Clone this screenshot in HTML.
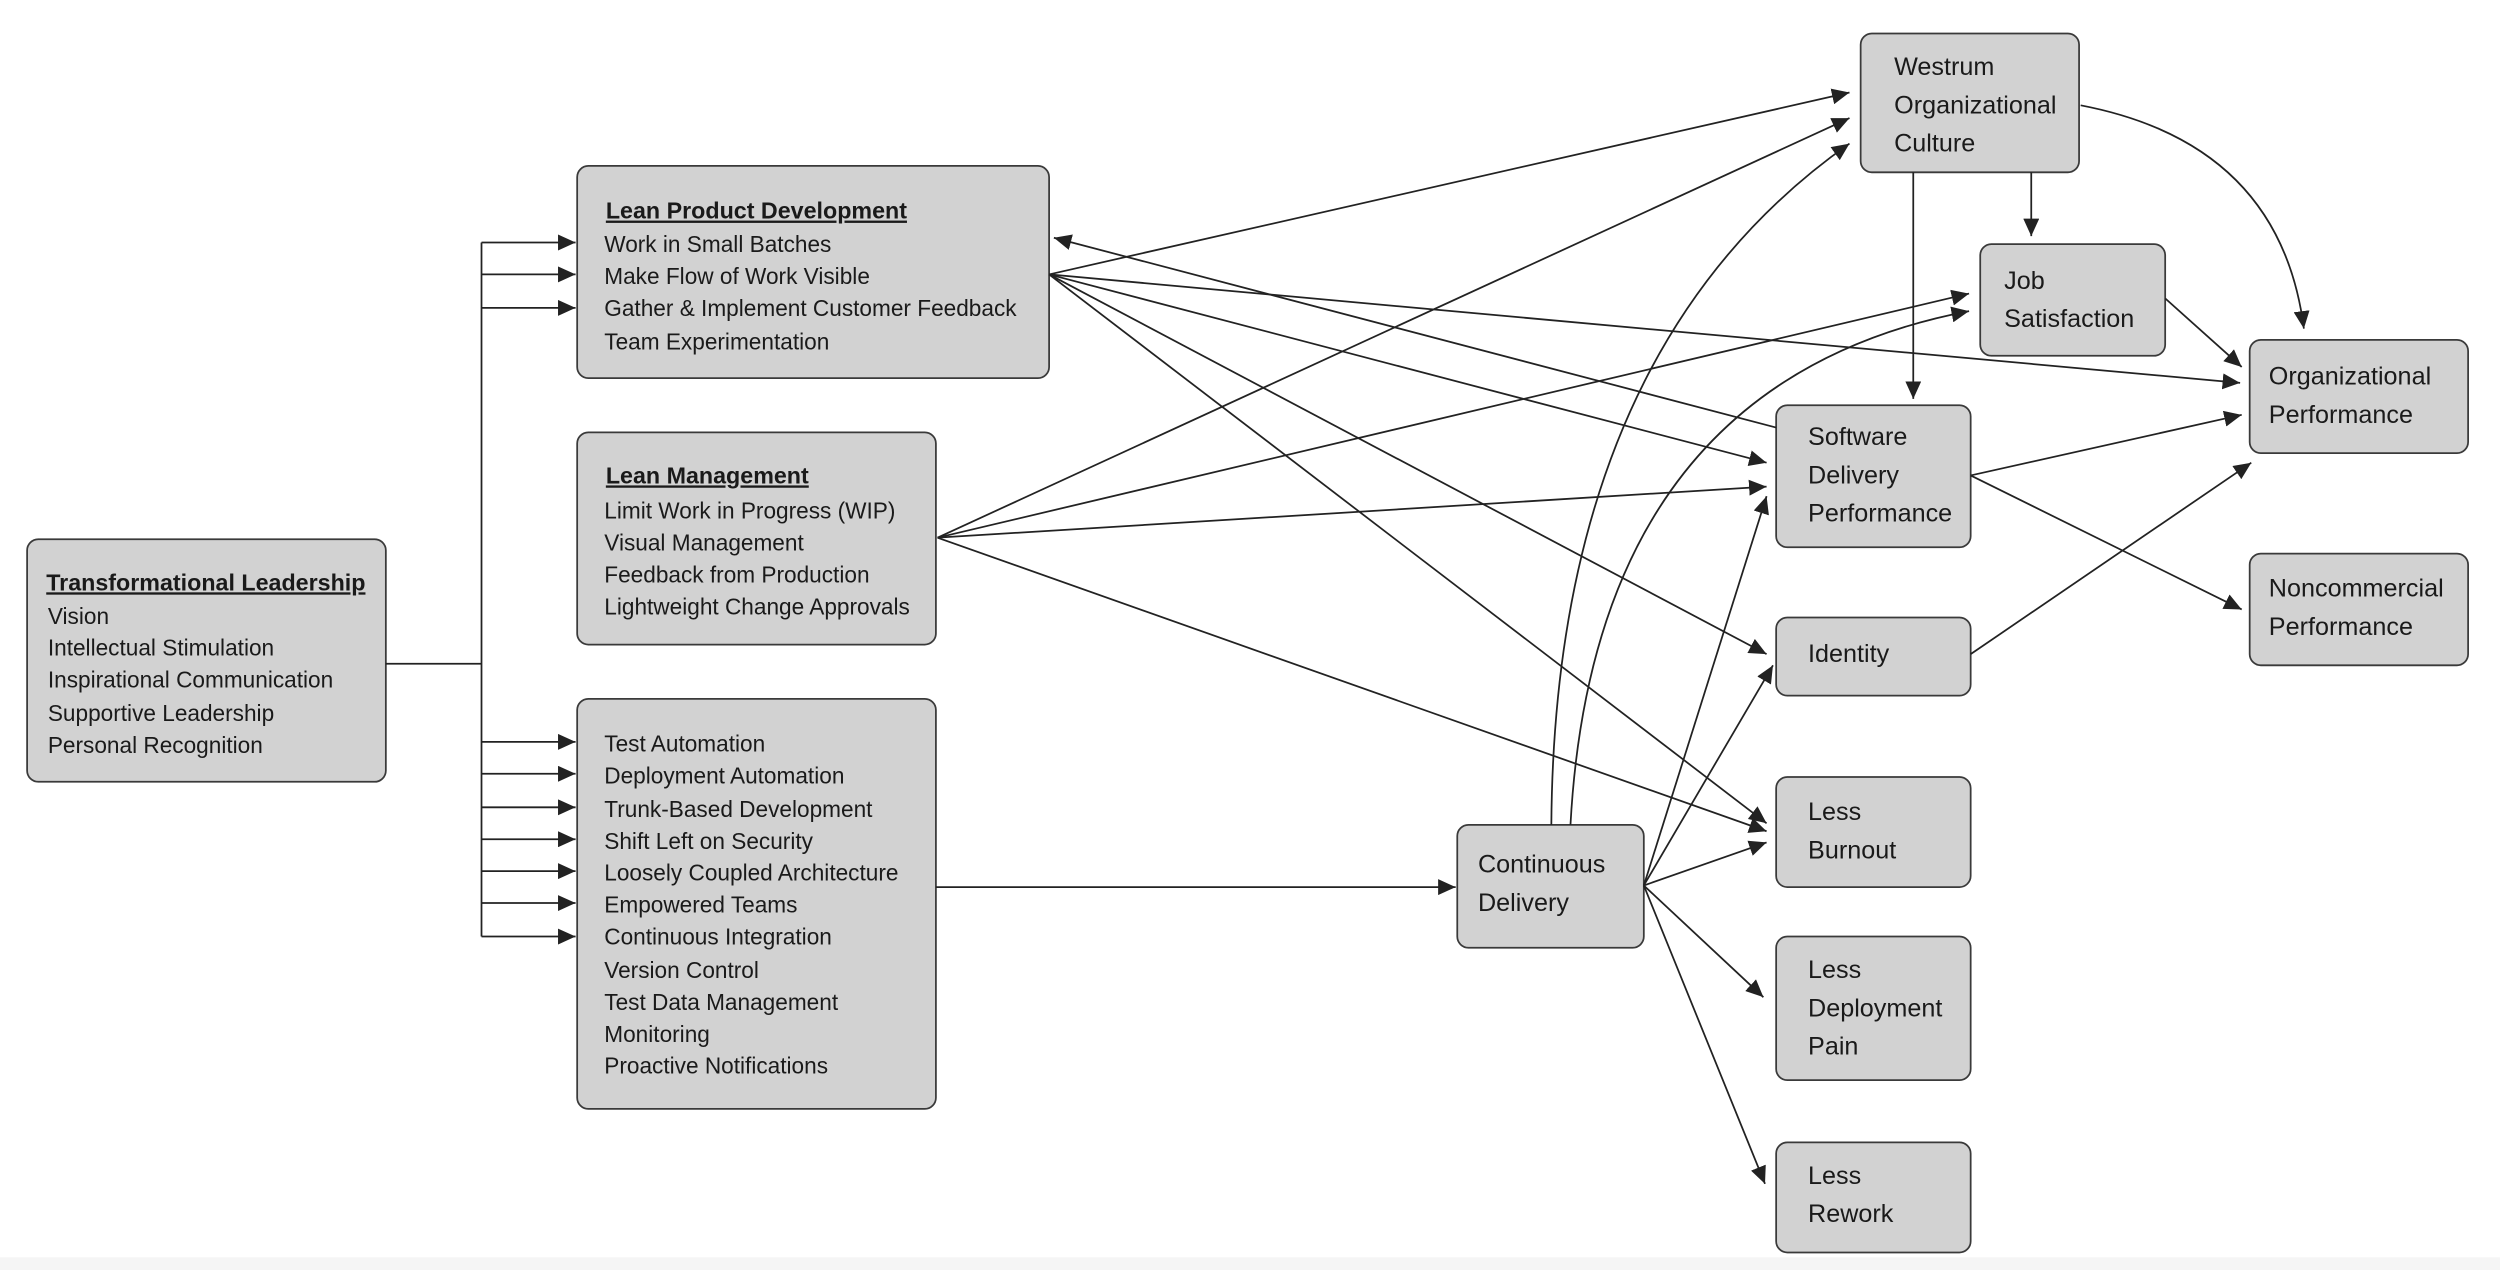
<!DOCTYPE html>
<html><head><meta charset="utf-8"><style>
html,body{margin:0;padding:0;background:#fff;}
svg{display:block;}
text{font-family:"Liberation Sans",sans-serif;fill:#1a1a1a;}
.i{font-size:14.2px;}
.t{font-size:14.6px;font-weight:bold;text-decoration:underline;}
.b{font-size:15.8px;}
rect{fill:#d2d2d2;stroke:#3a3a3a;stroke-width:1.1;}
.l{stroke:#222;stroke-width:1.1;fill:none;}
</style></head><body>
<svg width="2500" height="1270" viewBox="0 0 1568 796" preserveAspectRatio="none">
<defs>
<marker id="a" markerUnits="userSpaceOnUse" markerWidth="12" markerHeight="10" refX="11" refY="5" orient="auto">
<path d="M0,0 L11,5 L0,10 z" fill="#222"/></marker>
</defs>
<rect x="0" y="788" width="1568" height="8" style="fill:#f5f5f5;stroke:none"/>
<rect x="17" y="338" width="225" height="152" rx="7"/>
<rect x="362" y="104" width="296" height="133" rx="7"/>
<rect x="362" y="271" width="225" height="133" rx="7"/>
<rect x="362" y="438" width="225" height="257" rx="7"/>
<rect x="914" y="517" width="117" height="77" rx="7"/>
<rect x="1167" y="21" width="137" height="87" rx="7"/>
<rect x="1242" y="153" width="116" height="70" rx="7"/>
<rect x="1114" y="254" width="122" height="89" rx="7"/>
<rect x="1411" y="213" width="137" height="71" rx="7"/>
<rect x="1411" y="347" width="137" height="70" rx="7"/>
<rect x="1114" y="387" width="122" height="49" rx="7"/>
<rect x="1114" y="487" width="122" height="69" rx="7"/>
<rect x="1114" y="587" width="122" height="90" rx="7"/>
<rect x="1114" y="716" width="122" height="69" rx="7"/>
<text class="t" x="29" y="370">Transformational Leadership</text>
<text class="i" x="30" y="391">Vision</text>
<text class="i" x="30" y="411">Intellectual Stimulation</text>
<text class="i" x="30" y="431">Inspirational Communication</text>
<text class="i" x="30" y="452">Supportive Leadership</text>
<text class="i" x="30" y="472">Personal Recognition</text>
<text class="t" x="380" y="137">Lean Product Development</text>
<text class="i" x="379" y="158">Work in Small Batches</text>
<text class="i" x="379" y="178">Make Flow of Work Visible</text>
<text class="i" x="379" y="198">Gather &amp; Implement Customer Feedback</text>
<text class="i" x="379" y="219">Team Experimentation</text>
<text class="t" x="380" y="303">Lean Management</text>
<text class="i" x="379" y="325">Limit Work in Progress (WIP)</text>
<text class="i" x="379" y="345">Visual Management</text>
<text class="i" x="379" y="365">Feedback from Production</text>
<text class="i" x="379" y="385">Lightweight Change Approvals</text>
<text class="i" x="379" y="471">Test Automation</text>
<text class="i" x="379" y="491">Deployment Automation</text>
<text class="i" x="379" y="512">Trunk-Based Development</text>
<text class="i" x="379" y="532">Shift Left on Security</text>
<text class="i" x="379" y="552">Loosely Coupled Architecture</text>
<text class="i" x="379" y="572">Empowered Teams</text>
<text class="i" x="379" y="592">Continuous Integration</text>
<text class="i" x="379" y="613">Version Control</text>
<text class="i" x="379" y="633">Test Data Management</text>
<text class="i" x="379" y="653">Monitoring</text>
<text class="i" x="379" y="673">Proactive Notifications</text>
<text class="b" x="927" y="547">Continuous</text>
<text class="b" x="927" y="571">Delivery</text>
<text class="b" x="1188" y="47">Westrum</text>
<text class="b" x="1188" y="71">Organizational</text>
<text class="b" x="1188" y="95">Culture</text>
<text class="b" x="1257" y="181">Job</text>
<text class="b" x="1257" y="205">Satisfaction</text>
<text class="b" x="1134" y="279">Software</text>
<text class="b" x="1134" y="303">Delivery</text>
<text class="b" x="1134" y="327">Performance</text>
<text class="b" x="1423" y="241">Organizational</text>
<text class="b" x="1423" y="265">Performance</text>
<text class="b" x="1423" y="374">Noncommercial</text>
<text class="b" x="1423" y="398">Performance</text>
<text class="b" x="1134" y="415">Identity</text>
<text class="b" x="1134" y="514">Less</text>
<text class="b" x="1134" y="538">Burnout</text>
<text class="b" x="1134" y="613">Less</text>
<text class="b" x="1134" y="637">Deployment</text>
<text class="b" x="1134" y="661">Pain</text>
<text class="b" x="1134" y="742">Less</text>
<text class="b" x="1134" y="766">Rework</text>
<path class="l" d="M242,416 H302 M302,152 V587"/>
<g class="l" marker-end="url(#a)">
<path d="M302,152 H361"/><path d="M302,172 H361"/><path d="M302,193 H361"/>
<path d="M302,465 H361"/><path d="M302,485 H361"/><path d="M302,506 H361"/>
<path d="M302,526 H361"/><path d="M302,546 H361"/><path d="M302,566 H361"/><path d="M302,587 H361"/>
<path d="M587,556 H913"/>
<path d="M1114,268 L661,149"/>
<path d="M658,172 L1160,58"/>
<path d="M658,172 L1405,240"/>
<path d="M658,172 L1108,290"/>
<path d="M658,172 L1108,410"/>
<path d="M658,172 L1108,516"/>
<path d="M588,337 L1160,74"/>
<path d="M588,337 L1235,184"/>
<path d="M588,337 L1108,305"/>
<path d="M588,337 L1108,521"/>
<path d="M973,517 Q975,220 1160,90"/>
<path d="M985,517 Q1000,240 1235,195"/>
<path d="M1031,555 L1108,311"/>
<path d="M1031,555 L1112,417"/>
<path d="M1031,555 L1108,528"/>
<path d="M1031,555 L1106,625"/>
<path d="M1031,555 L1107,742"/>
<path d="M1200,108 V250"/>
<path d="M1274,108 V148"/>
<path d="M1305,66 Q1430,90 1445,206"/>
<path d="M1358,187 L1406,230"/>
<path d="M1236,298 L1406,260"/>
<path d="M1236,298 L1406,382"/>
<path d="M1236,410 L1412,290"/>
</g>
</svg>
</body></html>
